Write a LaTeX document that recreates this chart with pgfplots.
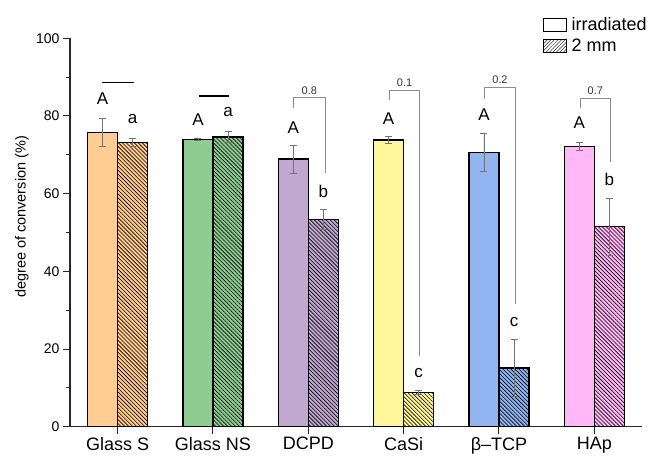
\documentclass[border=0pt]{standalone}
\usepackage{fontspec}
\setmainfont{Liberation Sans}
\usepackage{pgfplots}
\pgfplotsset{compat=1.18}
\usetikzlibrary{patterns.meta}
\definecolor{cOr}{HTML}{FFCC91}
\definecolor{cGr}{HTML}{8FCC92}
\definecolor{cPu}{HTML}{C0A8D0}
\definecolor{cYe}{HTML}{FFF59B}
\definecolor{cBl}{HTML}{92B5F2}
\definecolor{cPi}{HTML}{FFB8F5}
\tikzset{
  lett/.style={font=\fontsize{17bp}{19bp}\selectfont},
  pv/.style={font=\fontsize{11bp}{13bp}\selectfont, text=black!80},
  brk/.style={black!45, line width=0.55bp},
}
\pgfplotsset{
  ebar/.style={error bars/.cd, y dir=both, y explicit,
     error bar style={black!55, line width=0.6bp},
     error mark options={black!55, mark size=3.5bp, line width=0.6bp, rotate=90}},
  irr/.style={ybar, bar width=0.315, bar shift=0, draw=black, line width=1.3bp, fill=#1, forget plot, ebar},
  twomm/.style={ybar, bar width=0.315, bar shift=0, draw=black, line width=1.3bp, preaction={fill=#1},
     pattern={Lines[angle=-45,distance=2.8bp,line width=0.6bp]}, pattern color=black, forget plot, ebar},
}
\begin{document}
\begin{tikzpicture}
\begin{axis}[
  scale only axis, width=572bp, height=388.4bp,
  xmin=-0.5, xmax=5.5, ymin=0, ymax=100,
  axis x line=bottom, axis y line=left,
  axis line style={-, line width=1.2bp, black!85},
  tick style={line width=1bp, black!85},
  tick align=outside,
  major tick length=7bp, minor tick length=4bp,
  xtick={0,1,2,3,4,5},
  xticklabels={Glass S, Glass NS, DCPD, CaSi, β–TCP, HAp},
  ytick={0,20,40,60,80,100},
  minor ytick={10,30,50,70,90},
  /pgf/number format/assume math mode=true,
  x tick label style={font=\fontsize{18bp}{20bp}\selectfont},
  y tick label style={font=\fontsize{14bp}{16bp}\selectfont},
  ylabel={degree of conversion (\%)},
  ylabel style={at={(axis description cs:-0.084,0.54)}, anchor=center, font=\fontsize{14.5bp}{16bp}\selectfont},
  clip=false,
  legend style={draw=none, fill=none, inner sep=0pt, anchor=north west, at={(axis description cs:0.8264,1.06)},
     font=\fontsize{18bp}{20bp}\selectfont, row sep=3bp,
     nodes={inner sep=2bp}},
  legend cell align=left,
]
\addlegendimage{legend image code/.code={\draw[black, line width=0.7bp, fill=white] (0bp,-6.5bp) rectangle (23bp,6.5bp);}}
\addlegendentry{\hspace{3bp}irradiated}
\addlegendimage{legend image code/.code={\draw[black, line width=0.7bp, pattern={Lines[angle=45,distance=2.5bp,line width=0.5bp]}, pattern color=black!80] (0bp,-6.5bp) rectangle (23bp,6.5bp);}}
\addlegendentry{\hspace{3bp}2 mm}

% irradiated
\addplot[irr=cOr] coordinates {(-0.1575,75.7) +- (0,3.6)};
\addplot[irr=cGr] coordinates {(0.8425,74.0) +- (0,0.3)};
\addplot[irr=cPu] coordinates {(1.8425,68.9) +- (0,3.6)};
\addplot[irr=cYe] coordinates {(2.8425,73.8) +- (0,0.9)};
\addplot[irr=cBl] coordinates {(3.8425,70.6) +- (0,4.9)};
\addplot[irr=cPi] coordinates {(4.8425,72.2) +- (0,1.1)};
% 2 mm
\addplot[twomm=cOr] coordinates {(0.1575,73.2) +- (0,1.0)};
\addplot[twomm=cGr] coordinates {(1.1575,74.6) +- (0,1.5)};
\addplot[twomm=cPu] coordinates {(2.1575,53.3) +- (0,2.6)};
\addplot[twomm=cYe] coordinates {(3.1575,8.8) +- (0,0.5)};
\addplot[twomm=cBl] coordinates {(4.1575,15.1) +- (0,7.4)};
\addplot[twomm=cPi] coordinates {(5.1575,51.5) +- (0,7.3)};

% letters
\node[lett] at (axis cs:-0.1575,84.4) {A};
\node[lett] at (axis cs:0.1575,79.1) {a};
\node[lett] at (axis cs:0.8425,79.1) {A};
\node[lett] at (axis cs:1.1575,80.9) {a};
\node[lett] at (axis cs:1.8425,76.9) {A};
\node[lett] at (axis cs:2.1575,60.7) {b};
\node[lett] at (axis cs:2.8425,79.4) {A};
\node[lett] at (axis cs:3.1575,13.7) {c};
\node[lett] at (axis cs:3.8425,80.3) {A};
\node[lett] at (axis cs:4.1575,27.0) {c};
\node[lett] at (axis cs:4.8425,78.3) {A};
\node[lett] at (axis cs:5.1575,63.7) {b};

% horizontal bars
\draw[black, line width=1.5bp] (axis cs:-0.16,88.6) -- (axis cs:0.168,88.6);
\draw[black, line width=1.5bp] (axis cs:0.853,85.1) -- (axis cs:1.168,85.1);

% brackets
\draw[brk] (axis cs:1.845,82.0) -- (axis cs:1.845,84.7) -- (axis cs:2.175,84.7) -- (axis cs:2.175,65.3);
\node[pv] at (axis cs:2.01,86.6) {0.8};
\draw[brk] (axis cs:2.853,84.1) -- (axis cs:2.853,86.7) -- (axis cs:3.168,86.7) -- (axis cs:3.168,18.2);
\node[pv] at (axis cs:3.01,88.5) {0.1};
\draw[brk] (axis cs:3.846,84.3) -- (axis cs:3.846,87.4) -- (axis cs:4.175,87.4) -- (axis cs:4.175,31.6);
\node[pv] at (axis cs:4.01,89.3) {0.2};
\draw[brk] (axis cs:4.85,82.0) -- (axis cs:4.85,84.6) -- (axis cs:5.168,84.6) -- (axis cs:5.168,68.2);
\node[pv] at (axis cs:5.01,86.5) {0.7};

\coordinate (O) at (rel axis cs:0,0);
\end{axis}
\pgfresetboundingbox
\useasboundingbox ([xshift=-70bp,yshift=-33.3bp]O) rectangle ++(654bp,460bp);
\end{tikzpicture}
\end{document}
